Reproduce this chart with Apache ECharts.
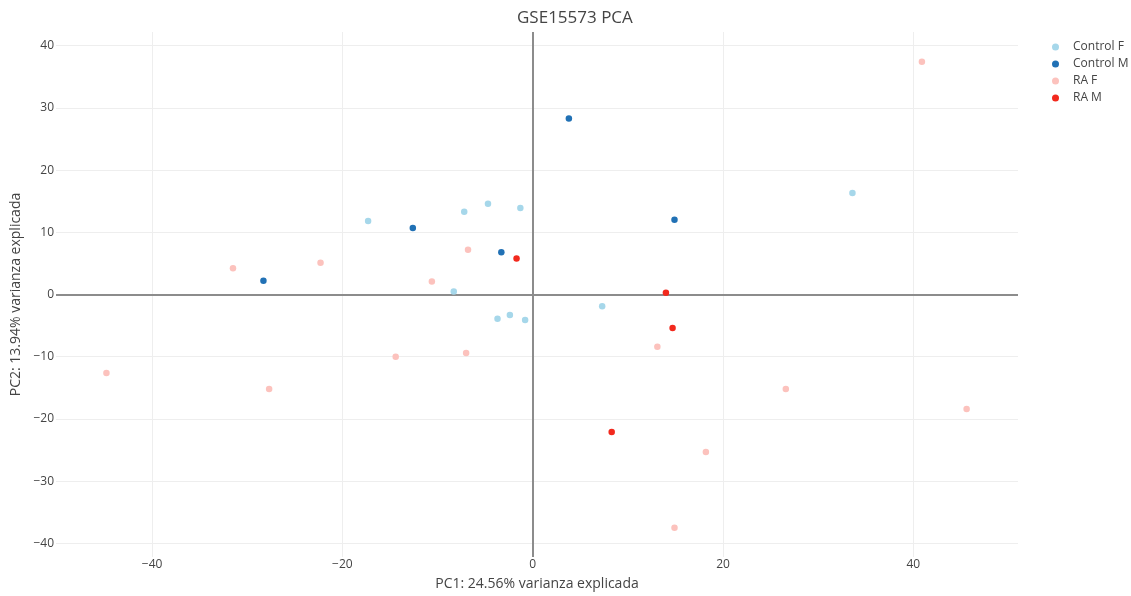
<!DOCTYPE html>
<html>
<head>
<meta charset="utf-8">
<script src="https://cdn.jsdelivr.net/npm/echarts@6/dist/echarts.min.js"></script>
<style>
  html, body { margin: 0; padding: 0; background: #fff; }
  #chart { width: 1131px; height: 596px; }
</style>
</head>
<body>
<div id="chart"></div>
<script>
// PCA scores (PC1, PC2) per group
const groups = ['Control F', 'Control M', 'RA F', 'RA M'];
const colors = ['#a6d7ea', '#2171b5', '#fcc2bd', '#f2291d'];

const controlF_pc1 = [-17.3, -7.2, -4.7, -1.3, -8.3, -3.7, -2.4, -0.8, 7.3, 33.6];
const controlF_pc2 = [11.8, 13.3, 14.6, 13.9, 0.5, -3.9, -3.3, -4.1, -1.9, 16.3];

const controlM_pc1 = [3.8, -12.6, -3.3, -28.3, 14.9];
const controlM_pc2 = [28.3, 10.7, 6.8, 2.2, 12.0];

const raF_pc1 = [40.9, -31.5, -22.3, -6.8, -10.6, -14.4, -7.0, -44.8, -27.7, 13.1, 26.6, 45.6, 18.2, 14.9];
const raF_pc2 = [37.4, 4.2, 5.1, 7.2, 2.1, -10.0, -9.4, -12.6, -15.2, -8.4, -15.2, -18.4, -25.3, -37.5];

const raM_pc1 = [-1.7, 14.0, 14.7, 8.3];
const raM_pc2 = [5.8, 0.3, -5.4, -22.1];

const xTicks = [-40, -20, 0, 20, 40];
const yTicks = [-40, -30, -20, -10, 0, 10, 20, 30, 40];

const pc1 = [controlF_pc1, controlM_pc1, raF_pc1, raM_pc1];
const pc2 = [controlF_pc2, controlM_pc2, raF_pc2, raM_pc2];

const FONT = '"Open Sans", verdana, arial, sans-serif';
const fmt = v => (v < 0 ? '\u2212' + Math.abs(v) : String(v));

const pointSeries = groups.map((name, i) => ({
  name,
  type: 'scatter',
  z: 5,
  symbol: 'circle',
  symbolSize: 6.5,
  itemStyle: { color: colors[i], opacity: 1 },
  data: pc1[i].map((x, k) => [x, pc2[i][k]])
}));

// grid lines and zero lines drawn beneath the points
const gridSeries = {
  type: 'scatter',
  silent: true,
  z: 1,
  data: [],
  markLine: {
    silent: true,
    symbol: 'none',
    animation: false,
    label: { show: false },
    lineStyle: { color: '#eeeeee', width: 1, type: 'solid' },
    data: [
      ...xTicks.filter(v => v !== 0).map(v => ({ xAxis: v })),
      ...yTicks.filter(v => v !== 0).map(v => ({ yAxis: v }))
    ]
  }
};
const zeroSeries = {
  type: 'scatter',
  silent: true,
  z: 2,
  data: [],
  markLine: {
    silent: true,
    symbol: 'none',
    animation: false,
    label: { show: false },
    lineStyle: { color: '#8c8c8c', width: 2, type: 'solid' },
    data: [{ xAxis: 0 }, { yAxis: 0 }]
  }
};

const chart = echarts.init(document.getElementById('chart'));
chart.setOption({
  animation: false,
  backgroundColor: '#fff',
  textStyle: { fontFamily: FONT },
  title: {
    text: 'GSE15573 PCA',
    left: 512,
    top: 5,
    textStyle: { fontFamily: FONT, fontSize: 17, fontWeight: 'normal', color: '#444' }
  },
  legend: {
    data: groups,
    orient: 'vertical',
    left: 1047,
    top: 35,
    itemWidth: 7,
    itemHeight: 7,
    itemGap: 3,
    icon: 'circle',
    textStyle: { fontFamily: FONT, fontSize: 12, color: '#444', padding: [0, 0, 0, 9], lineHeight: 14 }
  },
  grid: { left: 56, right: 113, top: 32, bottom: 39, containLabel: false, outerBoundsMode: 'none' },
  xAxis: {
    type: 'value',
    min: -50.1,
    max: 51.0,
    name: 'PC1: 24.56% varianza explicada',
    nameLocation: 'middle',
    nameGap: 20,
    nameTextStyle: { fontFamily: FONT, fontSize: 14, color: '#444' },
    axisLine: { show: false },
    axisTick: { show: false },
    splitLine: { show: false },
    axisLabel: {
      customValues: xTicks,
      formatter: fmt,
      margin: 2,
      fontFamily: FONT, fontSize: 12, color: '#444'
    }
  },
  yAxis: {
    type: 'value',
    min: -42.2,
    max: 42.2,
    name: 'PC2: 13.94% varianza explicada',
    nameLocation: 'middle',
    nameGap: 31,
    nameRotate: 90,
    nameTextStyle: { fontFamily: FONT, fontSize: 14, color: '#444' },
    axisLine: { show: false },
    axisTick: { show: false },
    splitLine: { show: false },
    axisLabel: {
      customValues: yTicks,
      formatter: fmt,
      margin: 2,
      fontFamily: FONT, fontSize: 12, color: '#444'
    }
  },
  series: [gridSeries, zeroSeries, ...pointSeries]
});
</script>
</body>
</html>
